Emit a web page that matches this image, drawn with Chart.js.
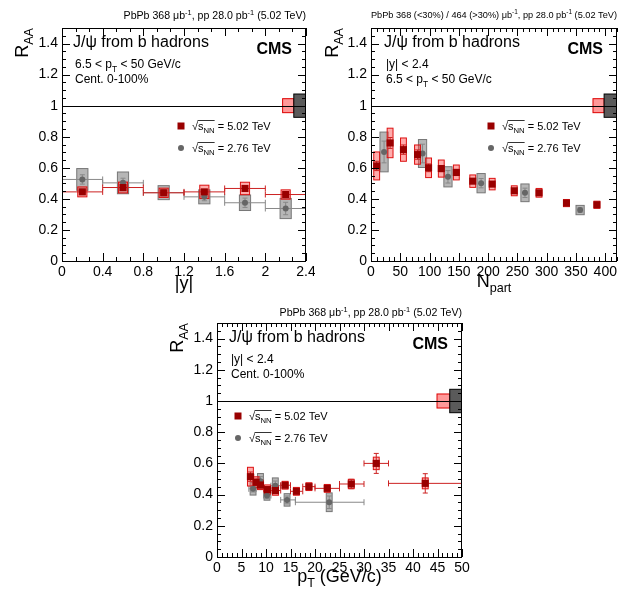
<!DOCTYPE html>
<html>
<head>
<meta charset="utf-8">
<script src="https://cdn.jsdelivr.net/npm/chart.js@4.4.0/dist/chart.umd.min.js"></script>
<style>
body{margin:0;background:#fff;width:630px;height:594px;position:relative;overflow:hidden}
.panel{position:absolute}
</style>
</head>
<body>
<div class="panel" style="left:0;top:0"><canvas id="c1" width="315" height="300"></canvas></div>
<div class="panel" style="left:315px;top:0"><canvas id="c2" width="315" height="300"></canvas></div>
<div class="panel" style="left:160px;top:297px"><canvas id="c3" width="320" height="297"></canvas></div>
<script>
const FONT = "'Liberation Sans', Arial, sans-serif"
const RED = '#990000', GREY = '#666666'

// shared y axis
const raaTicks = [0, 0.2, 0.4, 0.6, 0.8, 1, 1.2, 1.4]

// ---- R_AA vs |y|
const rapTicks = [0, 0.4, 0.8, 1.2, 1.6, 2, 2.4]
const rapMid = [0.2, 0.6, 1.0, 1.4, 1.8, 2.2]
const rapLo = [0, 0.4, 0.8, 1.2, 1.6, 2.0]
const rapHi = [0.4, 0.8, 1.2, 1.6, 2.0, 2.4]
const rapRaa502 = [0.445, 0.473, 0.439, 0.445, 0.467, 0.428]
const rapStat502 = [0.012, 0.012, 0.012, 0.014, 0.014, 0.016]
const rapSyst502 = [0.032, 0.035, 0.03, 0.043, 0.04, 0.03]
const rapRaa276 = [0.525, 0.503, 0.44, 0.413, 0.375, 0.338]
const rapStat276 = [0.03, 0.03, 0.02, 0.025, 0.03, 0.04]
const rapSyst276 = [0.07, 0.07, 0.045, 0.045, 0.05, 0.065]

// ---- R_AA vs Npart
const npTicks = [0, 50, 100, 150, 200, 250, 300, 350, 400]
const np502 = [9.7, 32.6, 55.4, 79.4, 98.3, 120, 145.7, 173.7, 206.9, 244.6, 286.9, 333.7, 385.7]
const npRaa502 = [0.612, 0.760, 0.717, 0.685, 0.600, 0.595, 0.570, 0.514, 0.495, 0.452, 0.439, 0.373, 0.362]
const npStat502 = [0.03, 0.035, 0.03, 0.03, 0.025, 0.02, 0.02, 0.015, 0.015, 0.012, 0.012, 0.01, 0.01]
const npSyst502 = [0.09, 0.095, 0.075, 0.062, 0.063, 0.055, 0.048, 0.04, 0.037, 0.032, 0.028, 0.023, 0.023]
const np276 = [22.3, 88, 131.4, 188, 262.9, 357]
const npRaa276 = [0.702, 0.692, 0.542, 0.501, 0.439, 0.328]
const npStat276 = [0.07, 0.06, 0.04, 0.03, 0.03, 0.015]
const npSyst276 = [0.128, 0.09, 0.065, 0.062, 0.057, 0.03]

// ---- R_AA vs pT
const ptTicks = [0, 5, 10, 15, 20, 25, 30, 35, 40, 45, 50]
const pt502 = [6.82, 7.98, 8.87, 10.3, 11.94, 13.9, 16.2, 18.76, 22.5, 27.4, 32.5, 42.5]
const ptLo502 = [6.5, 7.5, 8.5, 9.5, 11, 13, 15, 17.5, 20, 25, 30, 35]
const ptHi502 = [7.5, 8.5, 9.5, 11, 13, 15, 17.5, 20, 25, 30, 35, 50]
const ptRaa502 = [0.515, 0.479, 0.462, 0.432, 0.426, 0.46, 0.421, 0.451, 0.440, 0.468, 0.600, 0.472]
const ptStat502 = [0.03, 0.02, 0.02, 0.02, 0.02, 0.015, 0.015, 0.015, 0.015, 0.03, 0.064, 0.062]
const ptSyst502 = [0.06, 0.035, 0.03, 0.03, 0.03, 0.025, 0.025, 0.025, 0.025, 0.03, 0.04, 0.035]
const pt276 = [7.36, 8.87, 10.2, 11.9, 14.3, 22.9]
const ptLo276 = [6.5, 8, 9.5, 11, 13, 16]
const ptHi276 = [8, 9.5, 11, 13, 16, 30]
const ptRaa276 = [0.437, 0.485, 0.394, 0.457, 0.366, 0.351]
const ptStat276 = [0.02, 0.03, 0.02, 0.03, 0.025, 0.04]
const ptSyst276 = [0.04, 0.05, 0.03, 0.05, 0.04, 0.06]

// global uncertainties (half heights around 1)
const glob502 = 0.045, glob276 = 0.075

function font(size, bold) { return (bold ? 'bold ' : '') + size + 'px ' + FONT }

// segs: [text, mode] with mode '' | '^' | '_'
function richWidth(ctx, segs, size, bold) {
    let w = 0
    for (const [t, m] of segs) { ctx.font = font(m ? size * 0.7 : size, bold); w += ctx.measureText(t).width }
    return w
}
function rich(ctx, segs, x, y, size, align, bold) {
    const w = richWidth(ctx, segs, size, bold)
    let cx = align == 'right' ? x - w : align == 'center' ? x - w / 2 : x
    ctx.textAlign = 'left'
    ctx.textBaseline = 'alphabetic'
    for (const [t, m] of segs) {
        ctx.font = font(m ? size * 0.7 : size, bold)
        const dy = m == '^' ? -size * 0.4 : m == '_' ? size * 0.3 : 0
        ctx.fillText(t, cx, y + dy)
        cx += ctx.measureText(t).width
    }
}

function sqrtLabel(ctx, x, y, energy) {
    const size = 11
    ctx.fillStyle = '#000'
    ctx.font = font(size)
    ctx.fillText('\u221A', x, y)
    const x0 = x + ctx.measureText('\u221A').width
    ctx.fillText('s', x0, y)
    const x1 = x0 + ctx.measureText('s').width
    ctx.font = font(size * 0.7)
    ctx.fillText('NN', x1, y + 3)
    const x2 = x1 + ctx.measureText('NN').width
    ctx.font = font(size)
    ctx.fillText(' = ' + energy + ' TeV', x2, y)
    ctx.strokeStyle = '#000'
    ctx.lineWidth = 0.8
    ctx.beginPath(); ctx.moveTo(x0 - 0.5, y - 9.5); ctx.lineTo(x2, y - 9.5); ctx.stroke()
}

function drawSeries(ctx, sx, sy, s) {
    const n = s.x.length
    // syst boxes
    for (let i = 0; i < n; i++) {
        const l = sx.getPixelForValue(s.x[i] - s.boxHalf), r = sx.getPixelForValue(s.x[i] + s.boxHalf)
        const t = sy.getPixelForValue(s.y[i] + s.syst[i]), b = sy.getPixelForValue(s.y[i] - s.syst[i])
        ctx.fillStyle = s.boxFill
        ctx.fillRect(l, t, r - l, b - t)
        ctx.strokeStyle = s.boxLine
        ctx.lineWidth = 1
        ctx.strokeRect(l, t, r - l, b - t)
    }
    // stat + bin width bars
    ctx.strokeStyle = s.bar
    ctx.lineWidth = 1
    for (let i = 0; i < n; i++) {
        const px = sx.getPixelForValue(s.x[i]), py = sy.getPixelForValue(s.y[i])
        const t = sy.getPixelForValue(s.y[i] + s.stat[i]), b = sy.getPixelForValue(s.y[i] - s.stat[i])
        ctx.beginPath()
        ctx.moveTo(px, t); ctx.lineTo(px, b)
        ctx.moveTo(px - 2.5, t); ctx.lineTo(px + 2.5, t)
        ctx.moveTo(px - 2.5, b); ctx.lineTo(px + 2.5, b)
        if (s.lo) {
            const l = sx.getPixelForValue(s.lo[i]), r = sx.getPixelForValue(s.hi[i])
            ctx.moveTo(l, py); ctx.lineTo(r, py)
            ctx.moveTo(l, py - 3); ctx.lineTo(l, py + 3)
            ctx.moveTo(r, py - 3); ctx.lineTo(r, py + 3)
        }
        ctx.stroke()
    }
}

function makePanel(p) {
    const [L, T, R, B] = p.area
    const W = p.w, H = p.h
    const decor = {
        id: 'decor',
        beforeDatasetsDraw(chart) {
            const ctx = chart.ctx, sx = chart.scales.x, sy = chart.scales.y
            ctx.save()
            ctx.beginPath(); ctx.rect(L, T, R - L, B - T); ctx.clip()
            drawSeries(ctx, sx, sy, p.s276)
            drawSeries(ctx, sx, sy, p.s502)
            // global uncertainty boxes
            const g1 = sx.getPixelForValue(p.glob[0]), g2 = sx.getPixelForValue(p.glob[1]), g3 = sx.getPixelForValue(p.glob[2])
            let t = sy.getPixelForValue(1 + glob502), b = sy.getPixelForValue(1 - glob502)
            ctx.fillStyle = 'rgba(255,70,70,0.55)'; ctx.fillRect(g1, t, g2 - g1, b - t)
            ctx.strokeStyle = '#dd0000'; ctx.lineWidth = 1; ctx.strokeRect(g1, t, g2 - g1, b - t)
            t = sy.getPixelForValue(1 + glob276); b = sy.getPixelForValue(1 - glob276)
            ctx.fillStyle = '#5a5a5a'; ctx.fillRect(g2, t, g3 - g2, b - t)
            ctx.strokeStyle = '#000'; ctx.strokeRect(g2, t, g3 - g2, b - t)
            // reference line
            const y1 = Math.round(sy.getPixelForValue(1)) + 0.5
            ctx.beginPath(); ctx.moveTo(L, y1); ctx.lineTo(R, y1); ctx.stroke()
            ctx.restore()
        },
        afterDatasetsDraw(chart) {
            const ctx = chart.ctx, sx = chart.scales.x, sy = chart.scales.y
            ctx.save()
            ctx.strokeStyle = '#000'; ctx.lineWidth = 1
            ctx.strokeRect(L + 0.5, T + 0.5, R - L - 1, B - T)
            // ticks on all sides
            ctx.beginPath()
            const nx = Math.round((p.xMax - p.xMin) / p.xMinor)
            for (let i = 0; i <= nx; i++) {
                const v = p.xMin + i * p.xMinor
                const px = Math.round(sx.getPixelForValue(v)) + 0.5
                const major = p.xTicks.some(tv => Math.abs(tv - v) < 1e-6)
                const len = major ? 8 : 4
                ctx.moveTo(px, B); ctx.lineTo(px, B - len)
                ctx.moveTo(px, T); ctx.lineTo(px, T + len)
            }
            const ny = Math.round(1.5 / 0.05)
            for (let i = 0; i <= ny; i++) {
                const v = i * 0.05
                const py = Math.round(sy.getPixelForValue(v)) + 0.5
                const major = raaTicks.some(tv => Math.abs(tv - v) < 1e-6)
                const len = major ? 8 : 4
                ctx.moveTo(L, py); ctx.lineTo(L + len, py)
                ctx.moveTo(R, py); ctx.lineTo(R - len, py)
            }
            ctx.stroke()
            ctx.fillStyle = '#000'
            // header
            rich(ctx, p.header, R, p.headerY, p.headerSize, 'right')
            // texts inside
            rich(ctx, [['J/\u03C8 from b hadrons', '']], p.textX, T + 19, 16, 'left')
            rich(ctx, [['CMS', '']], R - 14, T + 26, 16, 'right', true)
            p.lines.forEach((segs, i) => rich(ctx, segs, p.textX + 2, T + 40 + i * 15, 12, 'left'))
            // legend
            const [lx, ly] = p.legend
            ctx.fillStyle = RED
            ctx.fillRect(lx - 3.5, ly - 3.5, 7, 7)
            ctx.fillStyle = GREY
            ctx.beginPath(); ctx.arc(lx, ly + 22, 3, 0, Math.PI * 2); ctx.fill()
            sqrtLabel(ctx, lx + 11, ly + 4, '5.02')
            sqrtLabel(ctx, lx + 11, ly + 26, '2.76')
            // axis titles
            ctx.fillStyle = '#000'
            rich(ctx, p.xTitle, (L + R) / 2, p.xTitleY, 18, 'center')
            ctx.translate(p.yTitleX, T)
            ctx.rotate(-Math.PI / 2)
            rich(ctx, [['R', ''], ['AA', '_']], 0, 0, 18, 'right')
            ctx.restore()
        }
    }
    const pts = (xs, ys) => xs.map((x, i) => ({ x: x, y: ys[i] }))
    new Chart(document.getElementById(p.id), {
        type: 'scatter',
        data: {
            datasets: [
                { label: '5.02 TeV', data: pts(p.s502.x, p.s502.y), pointStyle: 'rect', pointRadius: 5, backgroundColor: RED, borderWidth: 0 },
                { label: '2.76 TeV', data: pts(p.s276.x, p.s276.y), pointStyle: 'circle', pointRadius: 3, backgroundColor: GREY, borderWidth: 0 }
            ]
        },
        options: {
            responsive: false,
            animation: false,
            events: [],
            layout: { padding: { left: 0, right: W - R, top: T, bottom: 0 } },
            plugins: { legend: { display: false }, tooltip: { enabled: false } },
            scales: {
                x: {
                    type: 'linear', min: p.xMin, max: p.xMax,
                    grid: { display: false, drawTicks: false }, border: { display: false },
                    ticks: { font: { size: 14, family: FONT }, color: '#000', padding: 3, maxRotation: 0, autoSkip: false, callback: v => String(v) },
                    afterBuildTicks: s => { s.ticks = p.xTicks.map(v => ({ value: v })) },
                    afterFit: s => { s.height = H - B; s.paddingLeft = 0; s.paddingRight = 0 }
                },
                y: {
                    type: 'linear', min: 0, max: 1.5,
                    grid: { display: false, drawTicks: false }, border: { display: false },
                    ticks: { font: { size: 14, family: FONT }, color: '#000', padding: 4, autoSkip: false, callback: v => String(v) },
                    afterBuildTicks: s => { s.ticks = raaTicks.map(v => ({ value: v })) },
                    afterFit: s => { s.width = L; s.paddingTop = 0; s.paddingBottom = 0 }
                }
            }
        },
        plugins: [decor]
    })
}

const box502 = { boxFill: 'rgba(255,70,70,0.45)', boxLine: '#dd1111', bar: '#cc2222' }
const box276 = { boxFill: 'rgba(110,110,110,0.5)', boxLine: '#777777', bar: '#888888' }

makePanel({
    id: 'c1', w: 315, h: 300, area: [62, 28, 306, 261],
    xMin: 0, xMax: 2.4, xTicks: rapTicks, xMinor: 0.4 / 3,
    header: [['PbPb 368 \u03BCb', ''], ['-1', '^'], [', pp 28.0 pb', ''], ['-1', '^'], [' (5.02 TeV)', '']],
    headerSize: 10.6, headerY: 19, textX: 73,
    lines: [[['6.5 < p', ''], ['T', '_'], [' < 50 GeV/c', '']], [['Cent. 0-100%', '']]],
    legend: [181, 126],
    xTitle: [['|y|', '']], xTitleY: 289, yTitleX: 28,
    glob: [2.17, 2.28, 2.4],
    s502: Object.assign({ x: rapMid, y: rapRaa502, stat: rapStat502, syst: rapSyst502, lo: rapLo, hi: rapHi, boxHalf: 0.045 }, box502),
    s276: Object.assign({ x: rapMid, y: rapRaa276, stat: rapStat276, syst: rapSyst276, lo: rapLo, hi: rapHi, boxHalf: 0.055 }, box276)
})

makePanel({
    id: 'c2', w: 315, h: 300, area: [56, 28, 302, 261],
    xMin: 0, xMax: 420, xTicks: npTicks, xMinor: 10,
    header: [['PbPb 368 (<30%) / 464 (>30%) \u03BCb', ''], ['-1', '^'], [', pp 28.0 pb', ''], ['-1', '^'], [' (5.02 TeV)', '']],
    headerSize: 9.2, headerY: 18, textX: 69,
    lines: [[['|y| < 2.4', '']], [['6.5 < p', ''], ['T', '_'], [' < 50 GeV/c', '']]],
    legend: [176, 126],
    xTitle: [['N', ''], ['part', '_']], xTitleY: 287, yTitleX: 23,
    glob: [379, 398, 420],
    s502: Object.assign({ x: np502, y: npRaa502, stat: npStat502, syst: npSyst502, boxHalf: 5 }, box502),
    s276: Object.assign({ x: np276, y: npRaa276, stat: npStat276, syst: npSyst276, boxHalf: 7 }, box276)
})

makePanel({
    id: 'c3', w: 320, h: 297, area: [57, 26, 302, 260],
    xMin: 0, xMax: 50, xTicks: ptTicks, xMinor: 1,
    header: [['PbPb 368 \u03BCb', ''], ['-1', '^'], [', pp 28.0 pb', ''], ['-1', '^'], [' (5.02 TeV)', '']],
    headerSize: 10.6, headerY: 19, textX: 69,
    lines: [[['|y| < 2.4', '']], [['Cent. 0-100%', '']]],
    legend: [78, 119],
    xTitle: [['p', ''], ['T', '_'], [' (GeV/c)', '']], xTitleY: 285, yTitleX: 23,
    glob: [44.9, 47.5, 50],
    s502: Object.assign({ x: pt502, y: ptRaa502, stat: ptStat502, syst: ptSyst502, lo: ptLo502, hi: ptHi502, boxHalf: 0.6 }, box502),
    s276: Object.assign({ x: pt276, y: ptRaa276, stat: ptStat276, syst: ptSyst276, lo: ptLo276, hi: ptHi276, boxHalf: 0.6 }, box276)
})
</script>
</body>
</html>
